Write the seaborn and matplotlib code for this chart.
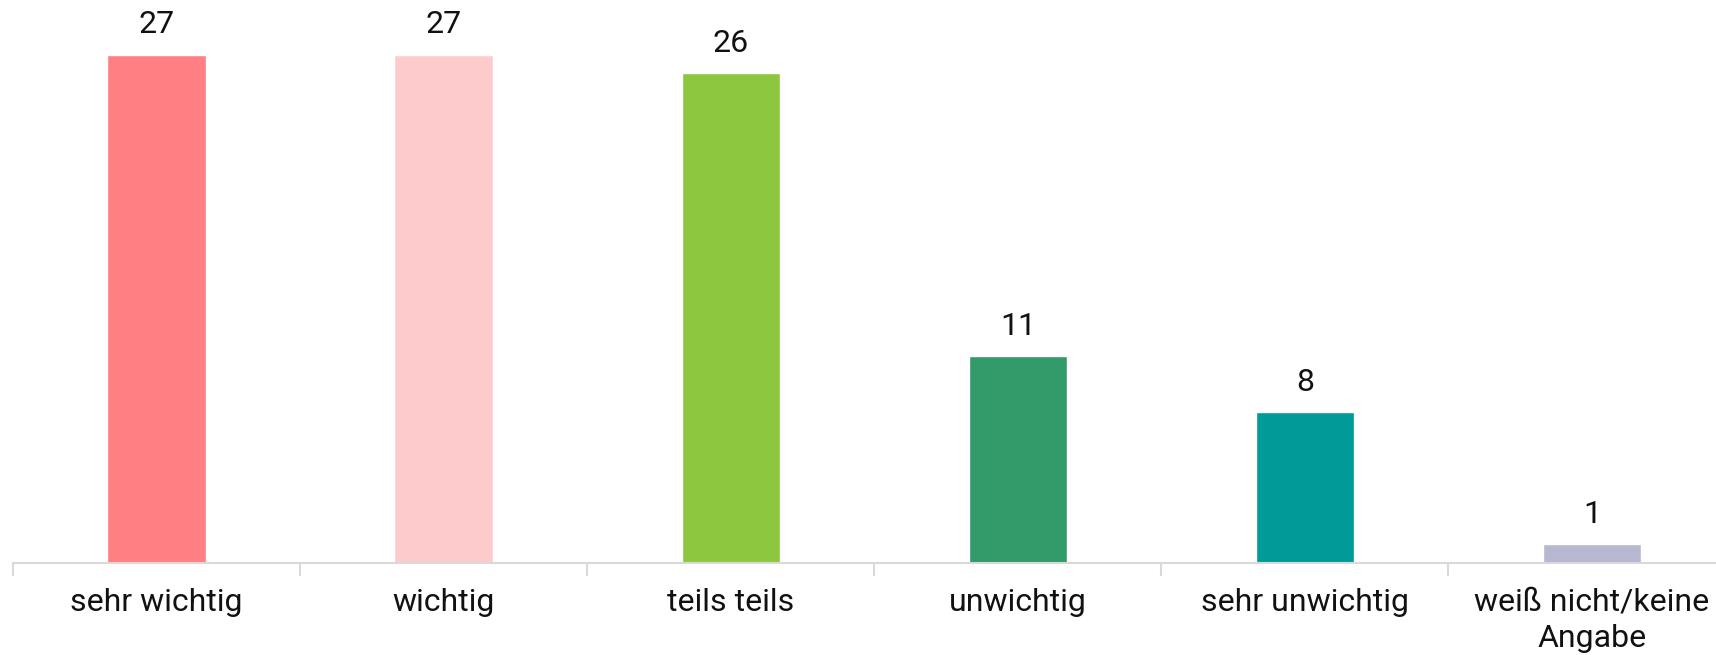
import matplotlib
matplotlib.use("Agg")
import matplotlib.pyplot as plt
import seaborn as sns
import pandas as pd
from matplotlib.ticker import FixedLocator

# values
categories = ["sehr wichtig", "wichtig", "teils teils", "unwichtig",
              "sehr unwichtig", "weiß nicht/keine\nAngabe"]
values = [27, 27, 26, 11, 8, 1]
colors = ["#FF7F82", "#FDCBCB", "#8DC73F", "#339A69", "#009A98", "#B7B7D2"]

df = pd.DataFrame({"category": categories, "value": values})

sns.set_theme(style="white")
plt.rcParams["font.family"] = ["Roboto", "DejaVu Sans"]

fig = plt.figure(figsize=(17.16, 6.55), dpi=100)
ax = fig.add_axes([0.0076, 0.1405, 1.0038, 0.8595])

sns.barplot(data=df, x="category", y="value", hue="category",
            palette=colors, legend=False, width=0.343, saturation=1, ax=ax)

for c in ax.containers:
    ax.bar_label(c, fmt="%d", padding=11, fontsize=23, color="#111111")

ax.set_xlim(-0.5, 5.5)
ax.set_ylim(0, 29.9)
ax.set_xlabel("")
ax.set_ylabel("")
ax.set_yticks([])

for s in ["top", "right", "left"]:
    ax.spines[s].set_visible(False)
ax.spines["bottom"].set_color("#D9D9D9")
ax.spines["bottom"].set_linewidth(1.5)

# category separators as minor ticks
ax.xaxis.set_minor_locator(FixedLocator([i - 0.5 for i in range(len(categories) + 1)]))
ax.tick_params(axis="x", which="minor", bottom=True, length=9, width=1.5, color="#D9D9D9")
ax.tick_params(axis="x", which="major", bottom=True, length=0, pad=18,
               labelsize=23, labelcolor="#111111")
for t in ax.get_xticklabels():
    t.set_linespacing(1.3)

fig.savefig("out.png", dpi=100)
